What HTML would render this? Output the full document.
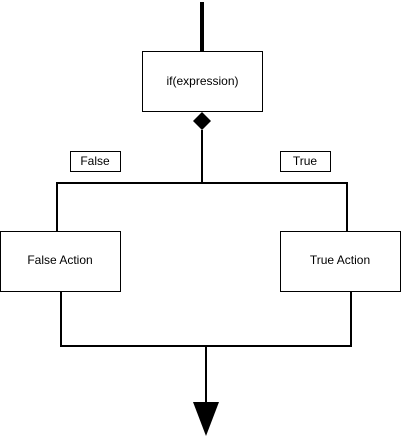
<!DOCTYPE html>
<html><head><style>body{margin:0;background:#fff}svg{display:block}</style></head><body>
<svg width="402" height="440" viewBox="0 0 402 440" xmlns="http://www.w3.org/2000/svg" font-family="Liberation Sans, sans-serif" font-size="12">
<line x1="202" y1="2" x2="202" y2="51" stroke="#000" stroke-width="4"/>
<rect x="142.5" y="51.5" width="120" height="60" fill="#fff" stroke="#000" stroke-width="1"/>
<text x="202.5" y="85" text-anchor="middle">if(expression)</text>
<polygon points="202,112 211,121 202,130 193,121" fill="#000"/>
<line x1="202" y1="130" x2="202" y2="183" stroke="#000" stroke-width="2"/>
<polyline points="57,232 57,183 347,183 347,232" fill="none" stroke="#000" stroke-width="2"/>
<rect x="70.5" y="151.5" width="50" height="20" fill="#fff" stroke="#000" stroke-width="1"/>
<text x="95" y="165" text-anchor="middle">False</text>
<rect x="280.5" y="151.5" width="50" height="20" fill="#fff" stroke="#000" stroke-width="1"/>
<text x="305" y="165" text-anchor="middle">True</text>
<rect x="0.5" y="231.5" width="120" height="60" fill="#fff" stroke="#000" stroke-width="1"/>
<text x="60" y="264" text-anchor="middle">False Action</text>
<rect x="280.5" y="231.5" width="120" height="60" fill="#fff" stroke="#000" stroke-width="1"/>
<text x="340" y="264" text-anchor="middle">True Action</text>
<polyline points="61,292 61,346 351,346 351,292" fill="none" stroke="#000" stroke-width="2"/>
<line x1="206" y1="346" x2="206" y2="404" stroke="#000" stroke-width="2"/>
<polygon points="193,402 219,402 206,436" fill="#000"/>
</svg>
</body></html>
